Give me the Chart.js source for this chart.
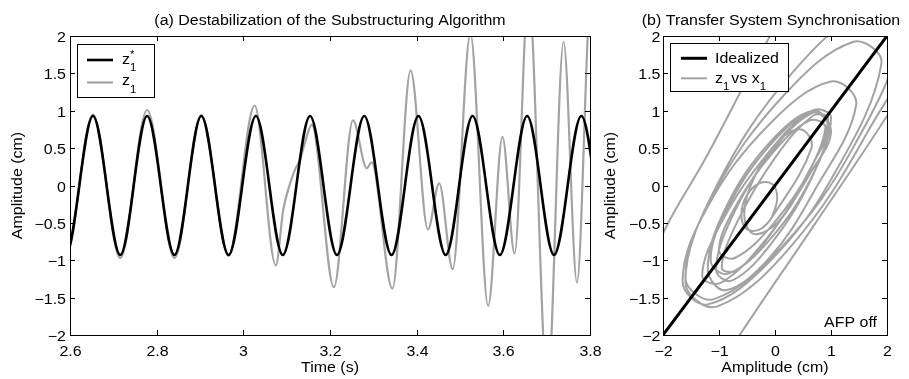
<!DOCTYPE html>
<html>
<head>
<meta charset="utf-8">
<script src="https://cdn.jsdelivr.net/npm/chart.js@4.4.1/dist/chart.umd.min.js"></script>
<style>
  body { margin: 0; background: #fff; }
  canvas { position: absolute; top: 0; }
</style>
</head>
<body>
<canvas id="destabChart" width="605" height="379" style="left:0"></canvas>
<canvas id="syncChart" width="309" height="379" style="left:600px"></canvas>
<script>
// (a) time histories (extrema + a few shoulder points)
const zStarTime = [2.528, 2.590, 2.653, 2.716, 2.778, 2.841, 2.903, 2.966, 3.029, 3.091, 3.154, 3.216,
  3.279, 3.342, 3.404, 3.467, 3.529, 3.592, 3.655, 3.717, 3.780, 3.843, 3.905];
const zStarAmp = [0.93, -0.93, 0.93, -0.93, 0.93, -0.93, 0.93, -0.93, 0.93, -0.93, 0.93, -0.93,
  0.93, -0.93, 0.93, -0.93, 0.93, -0.93, 0.93, -0.93, 0.93, -0.93, 0.93];

const z1Time = [2.528, 2.590, 2.653, 2.716, 2.778, 2.841, 2.903, 2.966, 3.026, 3.075, 3.092, 3.108,
  3.119, 3.131, 3.142, 3.158, 3.209, 3.253, 3.285, 3.296, 3.344, 3.386, 3.426, 3.452, 3.483,
  3.524, 3.565, 3.598, 3.626, 3.658, 3.702, 3.739, 3.770, 3.802, 3.835];
const z1Amp = [0.93, -0.95, 0.95, -0.97, 1.01, -0.97, 0.94, -0.94, 1.07, -1.07, -0.33, 0.03,
  0.21, 0.35, 0.57, 0.81, -1.36, 0.87, 0.23, 0.31, -1.38, 1.54, -0.59, 0.03, -1.12,
  2.03, -1.61, 0.65, -0.91, 2.6, -2.7, 1.92, -1.30, 2.5, -1.5];

// (b) z1 vs x1 trace
const x1Trace = [
  -0.05, 0.04, -0.05, -0.28, -0.51, -0.60, -0.51, -0.28, -0.05,
  0.65, 0.47, 0.05, -0.37, -0.55, -0.37, 0.05, 0.47,
  0.90, 0.62, -0.05, -0.72, -1.00, -0.72, -0.05, 0.62,
  0.95, 0.67, 0.00, -0.67, -0.95, -0.67, 0.00, 0.67,
  0.95, 0.64, -0.10, -0.84, -1.15, -0.84, -0.10, 0.64,
  0.95, 0.66, -0.05, -0.76, -1.05, -0.76, -0.05, 0.66,
  1.00, 0.66, -0.15, -0.96, -1.30, -0.96, -0.15, 0.66,
  1.00, 0.68, -0.10, -0.88, -1.20, -0.88, -0.10, 0.68,
  1.45, 1.00, -0.10, -1.20, -1.65, -1.20, -0.10, 1.00,
  1.90, 1.39, 0.15, -1.09, -1.60, -1.09, 0.15, 1.39,
  2.20, 1.64, 0.30, -1.04, -1.60, -1.04, 0.30, 1.64,
  2.70, 1.80, 0.60, -0.09, -1.22, -2.00, -2.60, -2.30, -1.40, -0.63, 0.68, 2.00, 2.70
];
const z1Trace = [
  -0.42, -0.17, 0.02, 0.03, -0.14, -0.39, -0.58, -0.59, -0.42,
  0.50, 0.75, 0.59, 0.11, -0.40, -0.65, -0.49, -0.01,
  0.77, 0.87, 0.43, -0.30, -0.87, -0.97, -0.53, 0.20,
  0.90, 0.93, 0.37, -0.48, -1.10, -1.13, -0.57, 0.28,
  0.80, 0.98, 0.53, -0.29, -1.00, -1.18, -0.73, 0.09,
  0.83, 0.97, 0.46, -0.41, -1.13, -1.27, -0.76, 0.11,
  0.91, 1.00, 0.41, -0.50, -1.21, -1.30, -0.71, 0.20,
  0.72, 1.00, 0.57, -0.30, -1.12, -1.40, -0.97, -0.10,
  1.08, 1.39, 0.82, -0.28, -1.28, -1.59, -1.02, 0.08,
  1.63, 1.92, 1.20, -0.10, -1.23, -1.52, -0.80, 0.50,
  1.99, 2.32, 1.50, 0.00, -1.29, -1.62, -0.80, 0.70,
  2.40, 3.10, 2.90, 2.00, 0.39, -0.64, -1.80, -2.80, -2.90, -2.00, -0.55, 0.93, 1.80
];
const idealX = [-2, 2];
const idealZ = [-2, 2];

// tick values
const timeTicks = [2.6, 2.8, 3.0, 3.2, 3.4, 3.6, 3.8];
const ampTicks = [-2, -1.5, -1, -0.5, 0, 0.5, 1, 1.5, 2];
const syncTicks = [-2, -1, 0, 1, 2];

const GREY = '#a3a3a3';
const FONT = '"Liberation Sans", Arial, Helvetica, sans-serif';
const SX = 1.14; // glyphs in the figure are a bit wider than Arial

const pts = (xs, ys) => xs.map((x, i) => ({ x: x, y: ys[i] }));
const fmt = v => String(v).replace('-', '\u2212');

function txt(ctx, s, x, y, align, size, rot) {
  ctx.save();
  ctx.translate(x, y);
  if (rot) ctx.rotate(rot);
  ctx.scale(SX, 1);
  ctx.font = size + 'px ' + FONT;
  ctx.textAlign = align || 'left';
  ctx.textBaseline = 'alphabetic';
  ctx.fillText(s, 0, 0);
  ctx.restore();
}
function txtW(ctx, s, size) {
  ctx.font = size + 'px ' + FONT;
  return ctx.measureText(s).width * SX;
}

// frame, inward ticks, labels, titles, legend - matlab look
const decor = {
  id: 'decor',
  afterDatasetsDraw(chart, args, o) {
    const ctx = chart.ctx, a = chart.chartArea;
    const xs = chart.scales.x, ys = chart.scales.y;
    ctx.save();
    ctx.fillStyle = '#000';
    ctx.strokeStyle = '#000';
    ctx.lineWidth = 1;
    ctx.strokeRect(a.left + 0.5, a.top + 0.5, a.right - a.left, a.bottom - a.top);
    ctx.beginPath();
    o.xTicks.forEach(v => {
      const px = Math.round(xs.getPixelForValue(v)) + 0.5;
      ctx.moveTo(px, a.bottom); ctx.lineTo(px, a.bottom - 5);
      ctx.moveTo(px, a.top); ctx.lineTo(px, a.top + 5);
      txt(ctx, fmt(v), px, a.bottom + 21, 'center', 14);
    });
    o.yTicks.forEach(v => {
      const py = Math.round(ys.getPixelForValue(v)) + 0.5;
      ctx.moveTo(a.left, py); ctx.lineTo(a.left + 5, py);
      ctx.moveTo(a.right, py); ctx.lineTo(a.right - 5, py);
      txt(ctx, fmt(v), a.left - o.yGap, py + 5, 'right', 14);
    });
    ctx.stroke();

    const cx = (a.left + a.right) / 2;
    txt(ctx, o.title, cx + (o.titleShift || 0), 25, 'center', 14);
    txt(ctx, o.xTitle, cx, 372, 'center', 14);
    txt(ctx, o.yTitle, o.yTitleX, (a.top + a.bottom) / 2, 'center', 14, -Math.PI / 2);

    if (o.note) txt(ctx, o.note.text, o.note.x, o.note.y, 'right', 14);

    // legend
    const lg = o.legend;
    ctx.fillStyle = '#fff';
    ctx.fillRect(lg.box[0], lg.box[1], lg.box[2] - lg.box[0], lg.box[3] - lg.box[1]);
    ctx.strokeStyle = '#000';
    ctx.lineWidth = 1;
    ctx.strokeRect(lg.box[0] + 0.5, lg.box[1] + 0.5, lg.box[2] - lg.box[0], lg.box[3] - lg.box[1]);
    lg.rows.forEach(r => {
      ctx.strokeStyle = r.color;
      ctx.lineWidth = r.width;
      ctx.beginPath();
      ctx.moveTo(lg.line[0], r.y); ctx.lineTo(lg.line[1], r.y);
      ctx.stroke();
      ctx.fillStyle = '#000';
      let x = lg.textX;
      r.parts.forEach(p => {
        const size = p.size || 14;
        txt(ctx, p.t, x, r.base + (p.dy || 0), 'left', size);
        if (!p.stay) x += txtW(ctx, p.t, size) + (p.gap || 0);
      });
    });
    ctx.restore();
  }
};

const common = {
  responsive: false,
  animation: false,
  events: [],
  plugins: { legend: { display: false }, tooltip: { enabled: false } }
};

new Chart(document.getElementById('destabChart'), {
  type: 'scatter',
  data: {
    datasets: [
      {
        label: 'z1*',
        data: pts(zStarTime, zStarAmp),
        showLine: true, borderColor: '#000', borderWidth: 2.6,
        pointRadius: 0, cubicInterpolationMode: 'monotone', capBezierPoints: false, clip: 0
      },
      {
        label: 'z1',
        data: pts(z1Time, z1Amp),
        showLine: true, borderColor: GREY, borderWidth: 2.2,
        pointRadius: 0, cubicInterpolationMode: 'monotone', capBezierPoints: false, clip: 0
      }
    ]
  },
  options: {
    ...common,
    layout: { padding: { left: 70, right: 15, top: 36, bottom: 44 } },
    scales: {
      x: { type: 'linear', min: 2.6, max: 3.8, display: false },
      y: { type: 'linear', min: -2, max: 2, display: false }
    },
    plugins: {
      ...common.plugins,
      decor: {
        title: '(a) Destabilization of the Substructuring Algorithm',
        xTitle: 'Time (s)', yTitle: 'Amplitude (cm)', yTitleX: 22, yGap: 4,
        xTicks: timeTicks, yTicks: ampTicks,
        legend: {
          box: [77, 44, 154, 97], line: [87, 113], textX: 122,
          rows: [
            { y: 60, base: 63.5, color: '#000', width: 2.6,
              parts: [{ t: 'z' }, { t: '1', size: 10, dy: 7.5, stay: true }, { t: '*', size: 10, dy: -6 }] },
            { y: 82.5, base: 85, color: GREY, width: 2.2,
              parts: [{ t: 'z' }, { t: '1', size: 10, dy: 7.5 }] }
          ]
        }
      }
    }
  },
  plugins: [decor]
});

new Chart(document.getElementById('syncChart'), {
  type: 'scatter',
  data: {
    datasets: [
      {
        label: 'Idealized',
        data: pts(idealX, idealZ),
        showLine: true, borderColor: '#000', borderWidth: 3,
        pointRadius: 0, clip: 0
      },
      {
        label: 'z1 vs x1',
        data: pts(x1Trace, z1Trace),
        showLine: true, borderColor: GREY, borderWidth: 2,
        pointRadius: 0, tension: 0.38, capBezierPoints: false, clip: 0
      }
    ]
  },
  options: {
    ...common,
    layout: { padding: { left: 63, right: 22, top: 36, bottom: 44 } },
    scales: {
      x: { type: 'linear', min: -2, max: 2, display: false },
      y: { type: 'linear', min: -2, max: 2, display: false }
    },
    plugins: {
      ...common.plugins,
      decor: {
        title: '(b) Transfer System Synchronisation', titleShift: -4,
        xTitle: 'Amplitude (cm)', yTitle: 'Amplitude (cm)', yTitleX: 15, yGap: 2.5,
        xTicks: syncTicks, yTicks: ampTicks,
        note: { text: 'AFP off', x: 277, y: 327 },
        legend: {
          box: [70, 43, 188, 91], line: [81, 107], textX: 115,
          rows: [
            { y: 58.3, base: 63.3, color: '#000', width: 3, parts: [{ t: 'Idealized' }] },
            { y: 78.3, base: 83, color: GREY, width: 2,
              parts: [{ t: 'z' }, { t: '1', size: 10, dy: 7, gap: 2 }, { t: 'vs ', gap: 0 },
                      { t: 'x' }, { t: '1', size: 10, dy: 7 }] }
          ]
        }
      }
    }
  },
  plugins: [decor]
});
</script>
</body>
</html>
